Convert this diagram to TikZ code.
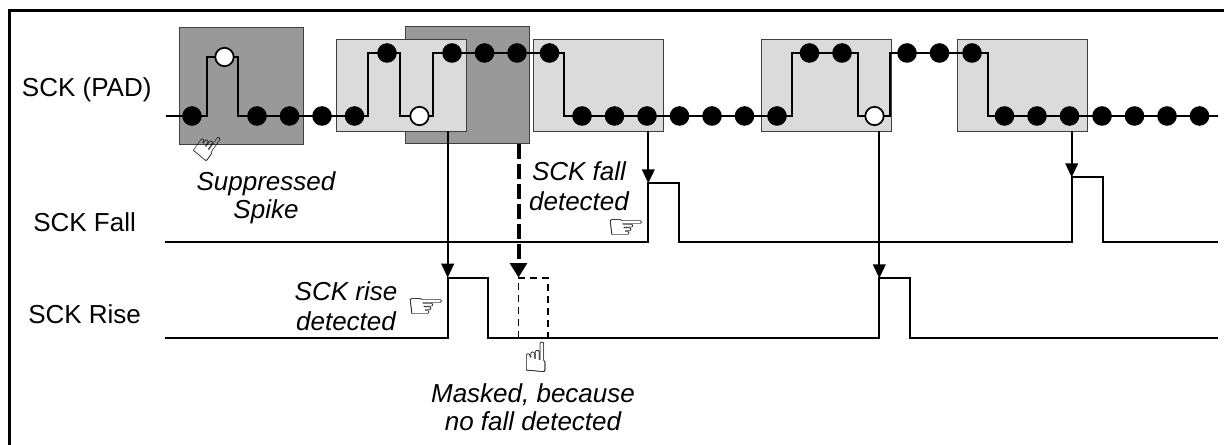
\documentclass[tikz,border=0pt]{standalone}
\usepackage{fontspec}
\setmainfont{Liberation Sans}
\newfontfamily\handfont{DejaVu Sans}
\usetikzlibrary{arrows.meta,positioning}

\tikzset{
  darkbox/.style={draw=black!75, fill=black!40, line width=0.7pt, inner sep=0pt,
    minimum width=93pt, minimum height=87.75pt},
  litebox/.style={draw=black!75, fill=black!14, line width=0.7pt, inner sep=0pt,
    minimum width=97.5pt, minimum height=69pt},
  wave/.style={line width=1.6pt, line join=miter},
  hit/.style={line width=1.4pt, -{Triangle[length=10.5pt,width=9.5pt]}},
  hitdash/.style={line width=3pt, dash pattern=on 11pt off 4pt, -{Triangle[length=11pt,width=12.5pt]}},
  masked/.style={line width=1.4pt, dash pattern=on 5.5pt off 3.5pt},
  lbl/.style={inner sep=0pt, anchor=base west, font=\fontsize{19.5}{23}\selectfont},
  note/.style={inner sep=0pt, anchor=base, align=center, font=\fontsize{19.5}{21}\selectfont\itshape},
  hand/.style={inner sep=0pt, font=\handfont\fontsize{33}{33}\selectfont},
}

\begin{document}
\begin{tikzpicture}[x=0.75pt,y=0.75pt,yscale=-1,xscale=1]
    \useasboundingbox (0,0) rectangle (1224,445);

    %Frame (cut at right and bottom)
    \draw [line width=2.2pt] (9.7,470) -- (9.7,10.3) -- (1250,10.3) ;

    %Shape: sampling windows
    \node [darkbox] (winA) at (241,85.5) {};
    \node [darkbox] (winC) at (467,85) {};
    \node [litebox] (winB) at (401,85) {};
    \node [litebox] (winD) at (598,85) {};
    \node [litebox] (winE) at (826.5,85) {};
    \node [litebox] (winF) at (1022,85) {};

    %Pulse tops
    \coordinate (riseA) at (447.7,277.7);
    \coordinate (riseX) at (518.5,277.7);
    \coordinate (riseB) at (879.3,278.3);
    \coordinate (fallA) at (648.3,183.3);
    \coordinate (fallB) at (1071.7,177.3);

    %Waveform SCK (PAD)
    \draw [wave] (166,116) -| (207,57) -| (238,116) -| (368,53) -| (400,116) -| (433,53)
      -| (564,116) -| (792,53) -| (858,116) -| (890,53) -| (988,116) -- (1218,116) ;
    \foreach \k in {0,2,3,4,5,12,13,14,15,16,17,18,25,26,27,28,29,30,31}
      \fill ({192+32.5*\k},116) circle [radius=9.8] ;
    \foreach \k in {6,8,9,10,11,19,20,22,23,24}
      \fill ({192+32.5*\k},53) circle [radius=9.8] ;
    \draw [line width=1.3pt, fill=white] ({192+32.5},57) circle [radius=9.2] ;
    \draw [line width=1.3pt, fill=white] ({192+32.5*7},116) circle [radius=9.2] ;
    \draw [line width=1.3pt, fill=white] ({192+32.5*21},116) circle [radius=9.2] ;

    %Waveform SCK Fall
    \draw [wave] (165,241.7) -| (fallA) -| (679,241.7) -| (fallB) -| (1103.3,241.7) -- (1218,241.7) ;
    %Waveform SCK Rise
    \draw [wave] (165,338.3) -| (riseA) -| (488,338.3) -| (riseB) -| (910,338.3) -- (1218,338.3) ;
    \draw [masked] (riseX |- 0,338.3) -- (riseX) -- (547.7,277.7) -- (547.7,338.3) ;

    %Straight Lines: detections
    \draw [hit] (riseA |- winB.south) -- (riseA) ;
    \draw [hitdash] (riseX |- winC.south) -- (riseX) ;
    \draw [hit] (fallA |- winD.south) -- (fallA) ;
    \draw [hit] (riseB |- winE.south) -- (riseB) ;
    \draw [hit] (fallB |- winF.south) -- (fallB) ;

    % Text Node
    \node [lbl] (padlbl) at (21.7,96.7) {SCK (PAD)};
    \node [lbl] (falllbl) at (33,231.7) {SCK Fall};
    \node [lbl] (riselbl) at (28,324) {SCK Rise};
    % Text Node
    \node [note] (spikenote) at (266,218.3) {Suppressed\\Spike};
    \node [note, font=\fontsize{19.5}{23}\selectfont\itshape] (risenote) at (346,330.7) {SCK rise\\detected};
    \node [note, font=\fontsize{19.5}{23}\selectfont\itshape] (fallnote) at (579,210.7) {SCK fall\\detected};
    \node [note] (masknote) at (533,430) {Masked, because\\no fall detected};
    % Hands
    \node [hand, yscale=0.75] (risehand) at (426,308) {☞};
    \node [hand, yscale=0.75] (fallhand) at (626,229) {☞};
    \node [hand, scale=0.95] (maskhand) at (536,357) {☝};
    \node [hand, rotate=-35, scale=0.85] (spikehand) at (208,146) {☝};
\end{tikzpicture}
\end{document}
